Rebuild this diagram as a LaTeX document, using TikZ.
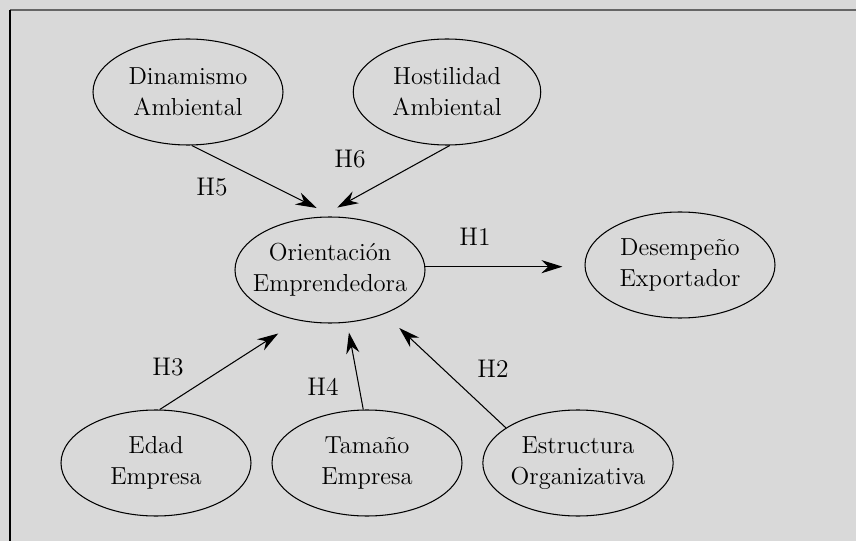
\documentclass[tikz,border=0pt]{standalone}
\usepackage{tikz}
\usetikzlibrary{shapes,arrows.meta}
\tikzset{>={Stealth[length=12pt,width=7.5pt]}}
\definecolor{panel}{HTML}{D9D9D9}
\definecolor{rule}{HTML}{666666}
\tikzset{var/.style={ellipse, draw, line width=.6pt, inner sep=0pt, align=center,
    minimum width=3.8cm, minimum height=2.12cm, font=\fontsize{14}{17.6}\selectfont}}
\tikzset{hyp/.style={font=\fontsize{14.5}{17.6}\selectfont}}

\begin{document}
\begin{tikzpicture}
      \fill[panel] (0,0) rectangle (17.12,10.82);
      \useasboundingbox (0,0) rectangle (17.12,10.82);
      \draw[rule, line width=1.1pt] (0.2,10.62) -- (17.12,10.62);
      \draw[line width=.6pt] (0.2,10.62) -- (0.2,0);
      % variables
      \node[var] (dyn) at (3.76,8.98) {Dinamismo\\Ambiental};
      \node[var, minimum width=3.75cm] (host) at (8.94,8.98) {Hostilidad\\Ambiental};
      \node[var, inner xsep=-6pt] (orient) at (6.60,5.42) {Orientación\\Emprendedora};
      \node[var] (export) at (13.60,5.52) {Desempeño\\Exportador};
      \node[var] (edad) at (3.12,1.56) {Edad\\Empresa};
      \node[var] (size) at (7.34,1.56) {Tamaño\\Empresa};
      \node[var] (struct) at (11.56,1.56) {Estructura\\Organizativa};
      % hypotheses
      \node[hyp] (h5) at (4.24,7.08) {H5};
      \node[hyp] (h6) at (7.00,7.64) {H6};
      \node[hyp] (h1) at (9.50,6.08) {H1};
      \node[hyp] (h3) at (3.36,3.48) {H3};
      \node[hyp] (h4) at (6.46,3.08) {H4};
      \node[hyp] (h2) at (9.86,3.44) {H2};
      \draw[->, line width=.6pt, shorten >=.38cm] (dyn.-86) -- (orient.86);
      \draw[->, line width=.6pt, shorten >=.38cm] (host.-87) -- (orient.100);
      \draw[->, line width=.6pt, shorten >=.44cm] (orient.2) -- (orient.2 -| export.west);
      \draw[->, line width=.6pt, shorten >=.48cm] (edad.86) -- (orient.-122);
      \draw[->, line width=.6pt, shorten >=.2cm] (size.94) -- (orient.-72);
      \draw[->, line width=.6pt, shorten >=.41cm] (struct.154) -- (orient.-39);
    \end{tikzpicture}
\end{document}
